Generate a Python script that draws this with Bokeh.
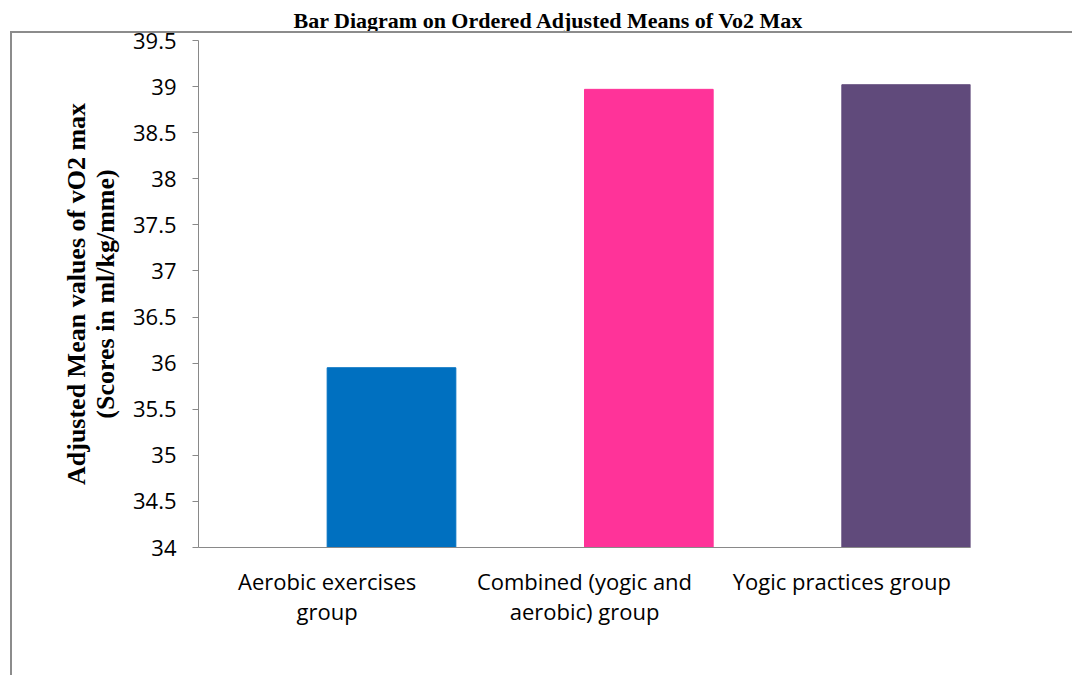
from bokeh.plotting import figure
from bokeh.models import FixedTicker, ColumnDataSource, InlineStyleSheet
from bokeh.transform import dodge
from bokeh.embed import file_html
from bokeh.resources import INLINE

categories = ["Aerobic exercises\ngroup", "Combined (yogic and\naerobic) group", "Yogic practices group"]
values = [35.95, 38.97, 39.02]
colors = ["#0070C0", "#FF3399", "#604A7B"]
tick_values = [34, 34.5, 35, 35.5, 36, 36.5, 37, 37.5, 38, 38.5, 39, 39.5]
tick_labels = ["34", "34.5", "35", "35.5", "36", "36.5", "37", "37.5", "38", "38.5", "39", "39.5"]
title_text = "Bar Diagram on Ordered Adjusted Means of Vo2 Max"
y_title = "Adjusted Mean values of vO2 max\n(Scores in ml/kg/mme)"

src = ColumnDataSource(dict(cat=categories, val=values, color=colors))

border_css = InlineStyleSheet(css="""
:host { position: relative; }
:host::after { content: ""; position: absolute; left: 10px; top: 31px; right: 0px; bottom: 0px;
  border-left: 2px solid #8c8c8c; border-top: 2px solid #8c8c8c; pointer-events: none; }
""")

p = figure(x_range=categories, y_range=(34, 39.5), width=1072, height=675,
           output_backend="svg", toolbar_location=None,
           min_border_left=198, min_border_right=102, min_border_top=40, min_border_bottom=128,
           stylesheets=[border_css])
p.vbar(x=dodge("cat", 0.25, range=p.x_range), top="val", bottom=34, width=0.5,
       color="color", source=src)

p.title.text = title_text
p.title.align = "left"
p.title.offset = 95
p.title.standoff = 12
p.title.vertical_align = "top"
p.title.text_font = "Liberation Serif"
p.title.text_font_style = "bold"
p.title.text_font_size = "22px"
p.title.text_color = "black"

p.grid.visible = False
p.outline_line_color = None
p.background_fill_color = "white"
p.border_fill_color = "white"

ya = p.yaxis[0]
ya.ticker = FixedTicker(ticks=tick_values)
ya.major_label_overrides = {v: s for v, s in zip(tick_values, tick_labels)}
ya.minor_tick_line_color = None
ya.major_tick_in = 0
ya.major_tick_out = 6
ya.axis_line_color = "#898989"
ya.major_tick_line_color = "#898989"
ya.major_label_text_font = "Open Sans"
ya.major_label_text_font_size = "22px"
ya.major_label_text_color = "black"
ya.major_label_standoff = 16
ya.axis_label = y_title
ya.axis_label_text_font = "Liberation Serif"
ya.axis_label_text_font_style = "bold"
ya.axis_label_text_font_size = "26px"
ya.axis_label_text_line_height = 1.0
ya.axis_label_text_color = "black"
ya.axis_label_standoff = 10

xa = p.xaxis[0]
xa.axis_line_color = "#898989"
xa.major_tick_line_color = None
xa.minor_tick_line_color = None
xa.major_label_text_font = "Open Sans"
xa.major_label_text_font_size = "22px"
xa.major_label_text_line_height = 1.0
xa.major_label_text_color = "black"
xa.major_label_standoff = 12

open("out.html", "w").write(file_html(p, INLINE))
